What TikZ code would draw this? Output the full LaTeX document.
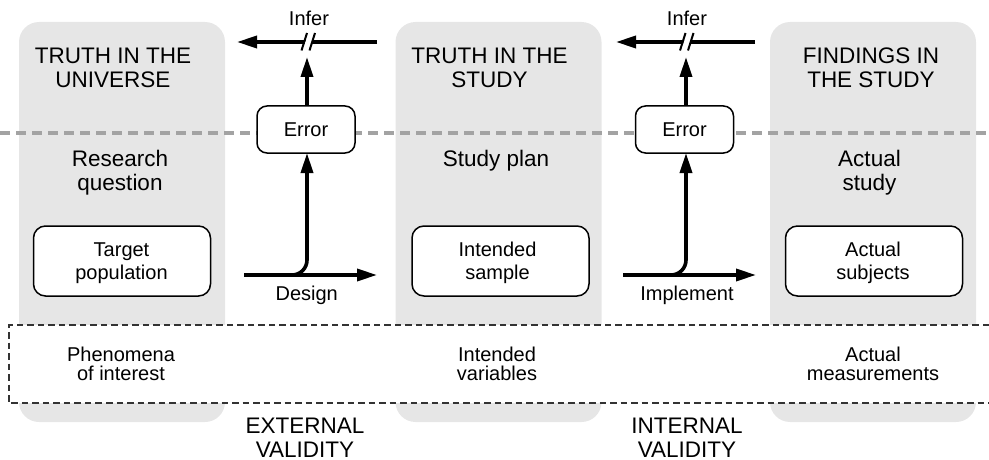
\documentclass[tikz,border=0pt]{standalone}
\usepackage{fontspec}
\setmainfont{Liberation Sans}
\usetikzlibrary{arrows.meta}
\definecolor{panelgray}{HTML}{E6E6E6}
\definecolor{dotgray}{HTML}{A3A3A3}
\definecolor{dashdark}{HTML}{333333}
\begin{document}
\begin{tikzpicture}[x=1pt,y=-1pt,
  panel/.style={fill=panelgray, draw=none, rounded corners=20pt, minimum width=206pt, minimum height=400pt, inner sep=0pt},
  big/.style={font=\fontsize{22.5}{24}\selectfont, align=center, inner sep=0pt, anchor=base},
  small/.style={font=\fontsize{20}{23}\selectfont, align=center, inner sep=0pt, anchor=base},
  tight/.style={font=\fontsize{20}{19.5}\selectfont, align=center, inner sep=0pt, anchor=base},
  rbox/.style={draw=black, line width=1.5pt, fill=white, rounded corners=12pt, minimum width=177pt, minimum height=70pt, inner sep=0pt},
  errbox/.style={draw=black, line width=1.5pt, fill=white, rounded corners=10pt, minimum width=98pt, minimum height=47pt, inner sep=0pt, font=\fontsize{20}{23}\selectfont},
  arr/.style={line width=3.6pt, -{Triangle[length=20pt,width=12pt]}},
  slash/.style={line width=2pt}
]
\useasboundingbox (0,0) rectangle (989,460);
% panels
\node[panel] (p1) at (122,222) {};
\node[panel] (p2) at (498.5,222) {};
\node[panel] (p3) at (873,222) {};
% dashed region
\fill[white] (9,325) rectangle (989,403);
\draw[dashdark, line width=1.3pt, dash pattern=on 6.5pt off 4pt] (989,325) -- (9,325) -- (9,403) -- (989,403);
% gray dotted line
\draw[dotgray, line width=4pt, dash pattern=on 10pt off 6pt] (0,133) -- (989,133);
% titles (anchor base = last line baseline)
\node[big] (t1) at (113,88) {TRUTH IN THE\\UNIVERSE};
\node[big] (t2) at (489.6,88) {TRUTH IN THE\\STUDY};
\node[big] (t3) at (871,88) {FINDINGS IN\\THE STUDY};
\node[big] (q1) at (120,190) {Research\\question};
\node[big] (q2) at (496,166) {Study plan};
\node[big] (q3) at (869.5,190) {Actual\\study};
% boxes
\node[rbox] (b1) at (122,261) {};
\node[rbox] (b2) at (500.5,261) {};
\node[rbox] (b3) at (874,261) {};
\node[small] (bt1) at (121.5,279) {Target\\population};
\node[small] (bt2) at (497.5,279) {Intended\\sample};
\node[small] (bt3) at (873,279) {Actual\\subjects};
% dashed region labels
\node[tight] (d1) at (121,380.5) {Phenomena\\of interest};
\node[tight] (d2) at (497,380.5) {Intended\\variables};
\node[tight] (d3) at (873,380.5) {Actual\\measurements};
% validity labels
\node[big] (v1) at (305,457) {EXTERNAL\\VALIDITY};
\node[big] (v2) at (687,457) {INTERNAL\\VALIDITY};
% error boxes
\node[errbox] (e1) at (306,129.5) {Error};
\node[errbox] (e2) at (684.5,129.5) {Error};
% ---- left system
\coordinate (h1s) at (244,275);
\coordinate (h1e) at (377,275);
\coordinate (v1b) at (307,275);
\coordinate (v1t) at (307,153);
\coordinate (i1r) at (377,42);
\coordinate (i1l) at (237,42);
\coordinate (i1u) at (307,57);
\draw[arr] (h1s) -- (h1e);
\draw[arr, rounded corners=15pt] (280,275) -- (v1b) -- (v1t);
\draw[arr] (v1t |- e1.north) -- (i1u);
\draw[arr] (i1r) -- (i1l);
\fill[white] (302.5,50) -- (308,33.5) -- (314.5,33.5) -- (309,50) -- cycle;
\draw[slash] (301.5,50.5) -- (307,33);
\draw[slash] (309.5,50.5) -- (315,33);
\node[small] (inf1) at (309,26) {Infer};
\node[small] (des) at (306.7,300) {Design};
% ---- right system
\coordinate (h2s) at (623,275);
\coordinate (h2e) at (756,275);
\coordinate (v2b) at (686,275);
\coordinate (v2t) at (686,153);
\coordinate (i2r) at (755,42);
\coordinate (i2l) at (616,42);
\coordinate (i2u) at (686,57);
\draw[arr] (h2s) -- (h2e);
\draw[arr, rounded corners=15pt] (660,275) -- (v2b) -- (v2t);
\draw[arr] (v2t |- e2.north) -- (i2u);
\draw[arr] (i2r) -- (i2l);
\fill[white] (681,50) -- (686.5,33.5) -- (693,33.5) -- (687.5,50) -- cycle;
\draw[slash] (680,50.5) -- (685.5,33);
\draw[slash] (688,50.5) -- (693.5,33);
\node[small] (inf2) at (687,26) {Infer};
\node[small] (imp) at (687,300) {Implement};
\end{tikzpicture}
\end{document}
